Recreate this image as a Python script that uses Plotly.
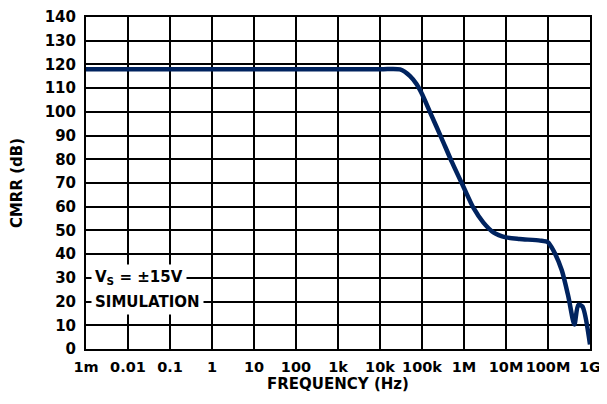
import plotly.graph_objects as go

freq_hz = [1e-3, 1e4, 3e4, 5.2e4, 7.4e4, 1e5, 1.55e5, 2.95e5, 5.1e5, 1e6, 1.67e6,
           2.9e6, 5e6, 1e7, 2.1e7, 6.5e7, 1e8, 1.35e8, 2.13e8, 3.05e8, 4.25e8,
           5.25e8, 6.6e8, 1e9]
cmrr_db = [118, 118, 117.9, 115.1, 111.7, 107.5, 99.9, 88.75, 79, 67.9, 59.6,
           53.3, 49.2, 47.1, 46.4, 45.7, 45, 41.5, 33.2, 22.1, 10.3,
           18.6, 17.9, 1.9]

tick_vals = [1e-3, 1e-2, 1e-1, 1, 10, 100, 1e3, 1e4, 1e5, 1e6, 1e7, 1e8, 1e9]
tick_text = ["1m", "0.01", "0.1", "1", "10", "100", "1k", "10k", "100k",
             "1M", "10M", "100M", "1G"]
y_ticks = list(range(0, 141, 10))

FONT = "DejaVu Sans"
navy = "#00235F"

fig = go.Figure()
fig.add_trace(go.Scatter(
    x=freq_hz, y=cmrr_db, mode="lines",
    line=dict(color=navy, width=4.5, shape="spline", smoothing=0.7),
    hoverinfo="skip", cliponaxis=True,
))

fig.update_xaxes(
    type="log", range=[-3, 9], automargin=False,
    tickvals=tick_vals, ticktext=tick_text, tickangle=0,
    ticklabeloverflow="allow",
    showgrid=True, gridcolor="black", gridwidth=2,
    showline=True, linecolor="black", linewidth=2, mirror=True,
    ticks="", ticklabelstandoff=4,
    tickfont=dict(family=FONT, size=14.5, color="black", weight="bold"),
    title=dict(text="FREQUENCY (Hz)", standoff=3,
               font=dict(family=FONT, size=15, color="black", weight="bold")),
    zeroline=False,
)
fig.update_yaxes(
    range=[0, 140], tickvals=y_ticks, automargin=False,
    ticklabeloverflow="allow",
    showgrid=True, gridcolor="black", gridwidth=2,
    showline=True, linecolor="black", linewidth=2, mirror=True,
    ticks="", ticklabelstandoff=5,
    tickfont=dict(family=FONT, size=15, color="black", weight="bold"),
    title=dict(text="CMRR (dB)", standoff=19,
               font=dict(family=FONT, size=15, color="black", weight="bold")),
    zeroline=False,
)

ann_font = dict(family=FONT, size=15, color="black", weight="bold")
fig.add_annotation(xref="paper", yref="y", x=0, y=30, xanchor="left",
                   yanchor="middle", xshift=5, showarrow=False,
                   text="V<sub>S</sub> = ±15V", font=ann_font,
                   bgcolor="white", borderpad=3, align="left")
fig.add_annotation(xref="paper", yref="y", x=0, y=20, xanchor="left",
                   yanchor="middle", xshift=5, showarrow=False,
                   text="SIMULATION", font=ann_font,
                   bgcolor="white", borderpad=3, align="left")

fig.update_layout(
    width=599, height=398,
    margin=dict(l=78, r=17, t=9, b=57),
    paper_bgcolor="white", plot_bgcolor="white",
    showlegend=False,
)

fig.write_html("out.html")
